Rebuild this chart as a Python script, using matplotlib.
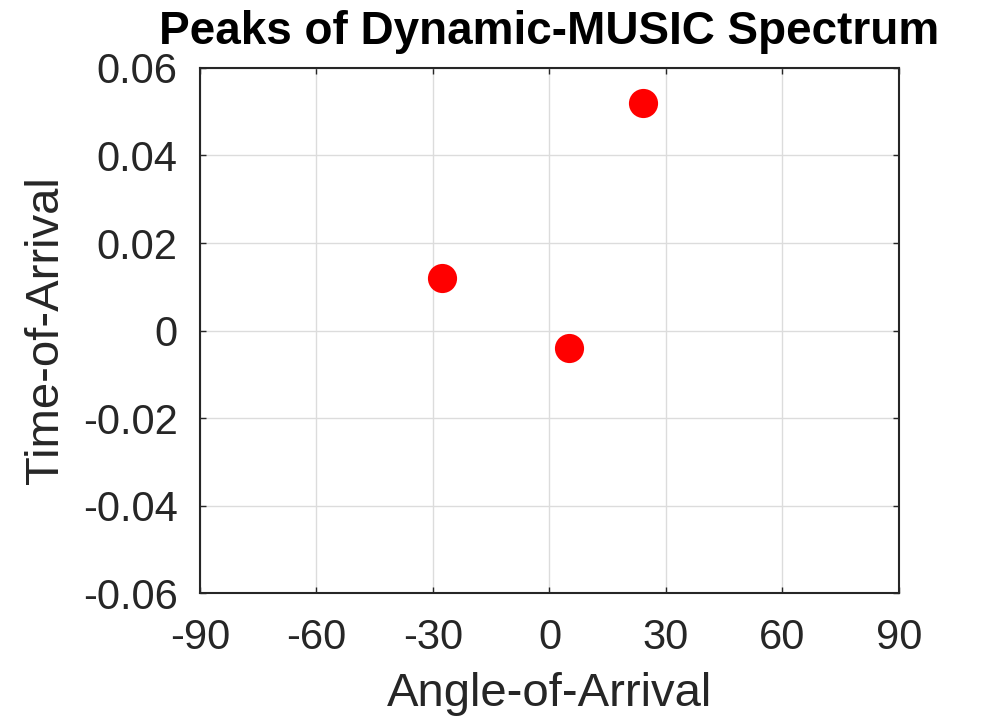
import numpy as np
import matplotlib
matplotlib.use("Agg")
import matplotlib.pyplot as plt

# peak locations of the spectrum
aoa_deg = [-27.8, 5.0, 24.1]
toa = [0.012, -0.004, 0.052]

x_ticks = [-90, -60, -30, 0, 30, 60, 90]
y_ticks = [-0.06, -0.04, -0.02, 0, 0.02, 0.04, 0.06]
y_tick_labels = ["-0.06", "-0.04", "-0.02", "0", "0.02", "0.04", "0.06"]

plt.rcParams['font.family'] = ['Liberation Sans', 'DejaVu Sans']
plt.rcParams['axes.unicode_minus'] = False

fig = plt.figure(figsize=(9.88, 7.21), dpi=100)
ax = fig.add_axes([0.2024, 0.1775, 0.7075, 0.7282])

ax.plot(aoa_deg, toa, 'o', color='#ff0000', markersize=21, markeredgewidth=0)

ax.set_xlim(-90, 90)
ax.set_ylim(-0.06, 0.06)
ax.set_xticks(x_ticks)
ax.set_yticks(y_ticks)
ax.set_yticklabels(y_tick_labels)
ax.tick_params(direction='in', length=4, width=1, labelsize=30, top=True, right=True,
               colors='#262626')
ax.tick_params(axis='x', pad=18)
ax.tick_params(axis='y', pad=16)
ax.grid(True, color='#dcdcdc', linewidth=1)
ax.set_axisbelow(True)
for s in ax.spines.values():
    s.set_linewidth(1.5)
    s.set_color('#262626')

ax.set_xlabel("Angle-of-Arrival", fontsize=34, labelpad=10, color='#262626')
ax.set_ylabel("Time-of-Arrival", fontsize=34, labelpad=11, color='#262626')
ax.set_title("Peaks of Dynamic-MUSIC Spectrum", fontsize=33, fontweight='bold', pad=17)

fig.savefig("out.png", dpi=100)
